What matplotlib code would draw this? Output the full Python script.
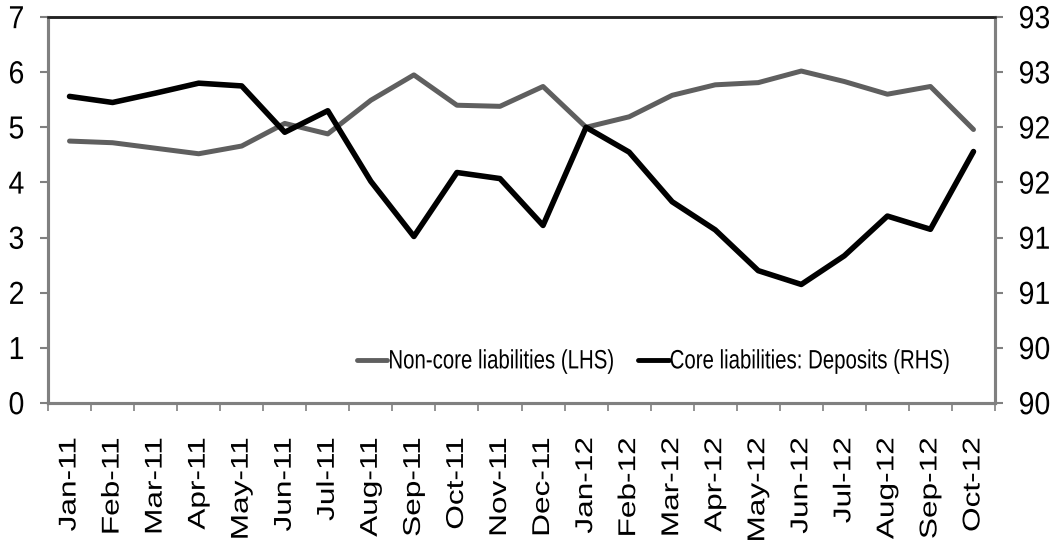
import numpy as np
import matplotlib
matplotlib.use("Agg")
import matplotlib.pyplot as plt
from matplotlib.patheffects import AbstractPathEffect
from matplotlib.transforms import Affine2D
from matplotlib.ticker import FixedLocator, FuncFormatter

months = ["Jan-11", "Feb-11", "Mar-11", "Apr-11", "May-11", "Jun-11", "Jul-11",
          "Aug-11", "Sep-11", "Oct-11", "Nov-11", "Dec-11", "Jan-12", "Feb-12",
          "Mar-12", "Apr-12", "May-12", "Jun-12", "Jul-12", "Aug-12", "Sep-12",
          "Oct-12"]
non_core = [4.75, 4.72, 4.62, 4.52, 4.66, 5.07, 4.88, 5.49, 5.95, 5.40, 5.38,
            5.74, 5.00, 5.19, 5.58, 5.77, 5.81, 6.02, 5.83, 5.60, 5.74, 4.96]
core_deposits = [92.28, 92.225, 92.31, 92.40, 92.375, 91.955, 92.15, 91.51,
                 91.01, 91.59, 91.535, 91.11, 92.00, 91.775, 91.325, 91.07,
                 90.70, 90.575, 90.835, 91.195, 91.075, 91.78]
label_lhs = "Non-core liabilities (LHS)"
label_rhs = "Core liabilities: Deposits (RHS)"


class Stretch(AbstractPathEffect):
    """Scale rendered glyphs in display space about an anchor of their bbox."""
    def __init__(self, sx=1.0, sy=1.0, ax=0.5, ay=0.5):
        super().__init__()
        self.sx, self.sy, self.ax, self.ay = sx, sy, ax, ay

    def draw_path(self, renderer, gc, tpath, affine, rgbFace=None):
        ext = affine.transform_path(tpath).get_extents()
        cx = ext.x0 + self.ax * ext.width
        cy = ext.y0 + self.ay * ext.height
        t = affine + (Affine2D().translate(-cx, -cy).scale(self.sx, self.sy)
                      .translate(cx, cy))
        renderer.draw_path(gc, tpath, t, rgbFace)


plt.rcParams['font.family'] = ['Liberation Sans', 'DejaVu Sans']

fig = plt.figure(figsize=(10.52, 5.44), dpi=100)
ax1 = fig.add_axes([48 / 1052, 1 - 403 / 544, (995 - 48) / 1052, (403 - 17) / 544])
ax2 = ax1.twinx()

x = np.arange(len(months))
l1, = ax1.plot(x, non_core, color="#5f5f5f", lw=3.6, solid_joinstyle='round',
               solid_capstyle='round', label=label_lhs)
l2, = ax2.plot(x, core_deposits, color="black", lw=4.0, solid_joinstyle='round',
               solid_capstyle='round', label=label_rhs)

ax1.set_xlim(-0.5, len(months) - 0.5)
ax1.set_ylim(0, 7)
ax2.set_ylim(89.5, 93)

spine_gray = "#808080"
for a in (ax1, ax2):
    for s in ("left", "right", "bottom"):
        a.spines[s].set_color(spine_gray)
        a.spines[s].set_linewidth(2.2)
    a.spines["top"].set_color("#222222")
    a.spines["top"].set_linewidth(1.8)

# y axes
ax1.set_yticks(np.arange(0, 8, 1))
ax1.tick_params(axis='y', direction='out', length=6, width=1.5, color=spine_gray,
                labelsize=20.5, pad=11)
ax2.yaxis.set_major_locator(FixedLocator(np.arange(89.5, 93.01, 0.5)))
ax2.yaxis.set_major_formatter(FuncFormatter(lambda v, p: f"{int(np.floor(v + 0.5))}"))
ax2.tick_params(axis='y', direction='out', length=6, width=1.5, color=spine_gray,
                labelsize=20.5, pad=11)

# x axis: labels at category centres, tick marks at boundaries
ax1.set_xticks(x)
ax1.set_xticklabels(months, rotation=90)
ax1.set_xticks(np.arange(-0.5, len(months), 1.0), minor=True)
ax1.tick_params(axis='x', which='major', length=0, labelsize=17.5, pad=25)
ax1.tick_params(axis='x', which='minor', direction='out', length=6, width=1.2,
                color=spine_gray)

# x labels: stretch downward from their top edge
for t in ax1.get_xticklabels():
    t.set_path_effects([Stretch(sx=1.0, sy=1.3, ax=0.5, ay=1.0)])
for t in ax1.get_yticklabels() + ax2.get_yticklabels():
    t.set_path_effects([Stretch(sx=1.0, sy=1.12, ax=0.5, ay=0.5)])

leg = ax2.legend([l1, l2], [label_lhs, label_rhs], ncol=2, frameon=False,
                 loc='center left', bbox_to_anchor=(0.326, 0.108),
                 fontsize=14.7, handlelength=1.5, handletextpad=0.05,
                 columnspacing=1.2, borderpad=0, borderaxespad=0)
for t in leg.get_texts():
    t.set_path_effects([Stretch(sx=1.0, sy=1.3, ax=0.5, ay=0.5)])
for h in leg.get_lines():
    h.set_linewidth(3.5)

fig.savefig("out.png", dpi=100)
